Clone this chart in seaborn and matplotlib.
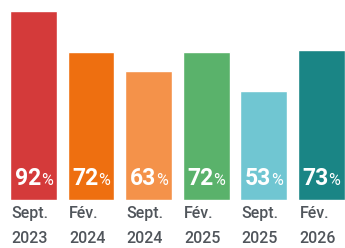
import matplotlib.pyplot as plt
import seaborn as sns

# Data
periods = ['Sept.\n2023', 'Fév.\n2024', 'Sept.\n2024', 'Fév.\n2025', 'Sept.\n2025', 'Fév.\n2026']
values = [92, 72, 63, 72, 53, 73]
colors = ['#D43A3A', '#EE6F10', '#F4924A', '#5AB26B', '#70C6D2', '#1A8585']

sns.set_style('white')
plt.rcParams['font.family'] = ['Roboto', 'DejaVu Sans']

fig = plt.figure(figsize=(3.45, 2.48), dpi=100)
ax = fig.add_axes([0, 48 / 248, 1, 200 / 248])

width = 0.81
sns.barplot(x=list(range(len(values))), y=values, hue=list(range(len(values))),
            palette=colors, legend=False, width=width, saturation=1, ax=ax)
ax.set_xlim(-0.58, 5.41)
ax.set_ylim(0, 97.5)
ax.axis('off')

for i, (v, lab) in enumerate(zip(values, periods)):
    # value labels: number bold, % smaller
    ax.annotate(str(v), xy=(i, 0), xytext=(5.5, 10.5), textcoords='offset points',
                ha='right', va='baseline', color='white', fontsize=16.5, fontweight='bold')
    ax.annotate('%', xy=(i, 0), xytext=(5.2, 10.5), textcoords='offset points',
                ha='left', va='baseline', color='white', fontsize=11.5)
    # period labels, left aligned with the bar
    ax.annotate(lab, xy=(i - width / 2, 0), xytext=(1, -4), textcoords='offset points',
                ha='left', va='top', color='#50555b', fontsize=11.5, fontweight='medium',
                linespacing=1.85)

fig.savefig('out.png', dpi=100)
